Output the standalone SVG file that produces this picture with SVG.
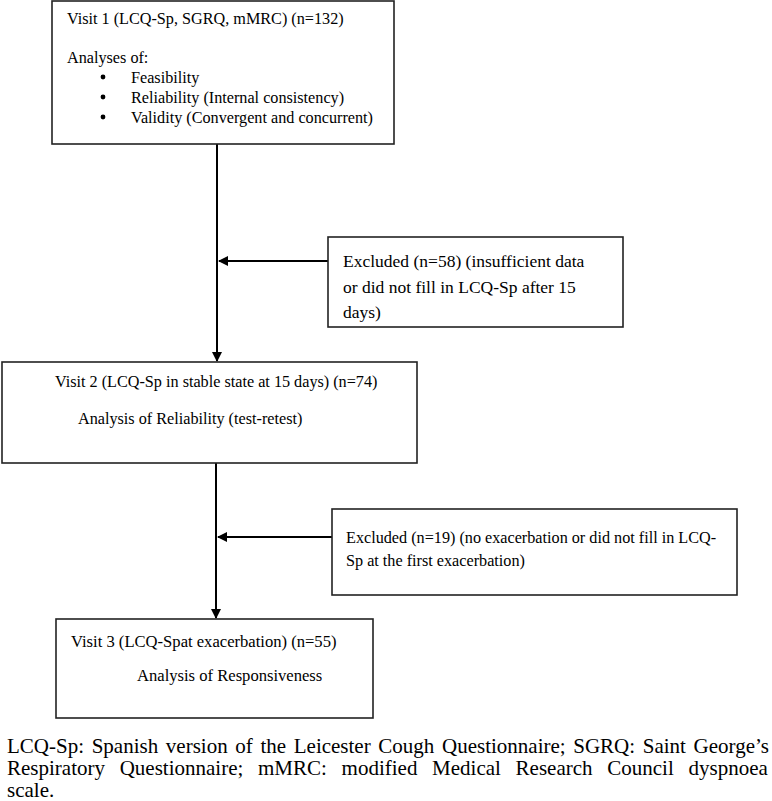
<svg xmlns="http://www.w3.org/2000/svg" width="772" height="801" viewBox="0 0 772 801">
<defs>
<marker id="ah" markerWidth="10" markerHeight="10" refX="9" refY="5" orient="auto" markerUnits="userSpaceOnUse">
<path d="M0,0 L10,5 L0,10 z" fill="#000"/>
</marker>
</defs>
<style>
.box{fill:#fff;stroke:#222;stroke-width:1.6}
.c{stroke:#000;stroke-width:2;fill:none}
text{font-family:'Liberation Serif',serif;fill:#000;font-size:16.2px}
.x1{font-size:17.5px}
.v3{font-size:16.6px}
.f{font-size:21px}
</style>
<rect width="772" height="801" fill="#fff"/>
<g id="connectors">
<line class="c" x1="217" y1="144" x2="217" y2="361" marker-end="url(#ah)"/>
<line class="c" x1="328" y1="261" x2="219" y2="261" marker-end="url(#ah)"/>
<line class="c" x1="216" y1="463" x2="216" y2="618" marker-end="url(#ah)"/>
<line class="c" x1="332" y1="537" x2="218" y2="537" marker-end="url(#ah)"/>
</g>
<g id="visit1">
<rect class="box" x="52" y="1" width="342" height="143"/>
<text x="67" y="24">Visit 1 (LCQ-Sp, SGRQ, mMRC) (n=132)</text>
<text x="67" y="63">Analyses of:</text>
<circle cx="103" cy="77" r="2.4"/>
<circle cx="103" cy="97" r="2.4"/>
<circle cx="103" cy="117" r="2.4"/>
<text x="131" y="83">Feasibility</text>
<text x="131" y="103">Reliability (Internal consistency)</text>
<text x="131" y="123">Validity (Convergent and concurrent)</text>
</g>
<g id="excluded1">
<rect class="box" x="328" y="237" width="295" height="90"/>
<text class="x1" x="343" y="267">Excluded (n=58) (insufficient data</text>
<text class="x1" x="343" y="293">or did not fill in LCQ-Sp after 15</text>
<text class="x1" x="343" y="318">days)</text>
</g>
<g id="visit2">
<rect class="box" x="2" y="362" width="415" height="101"/>
<text x="55" y="387">Visit 2 (LCQ-Sp in stable state at 15 days) (n=74)</text>
<text x="78" y="424">Analysis of Reliability (test-retest)</text>
</g>
<g id="excluded2">
<rect class="box" x="332" y="509" width="405" height="86"/>
<text x="346" y="543">Excluded (n=19) (no exacerbation or did not fill in LCQ-</text>
<text x="346" y="566">Sp at the first exacerbation)</text>
</g>
<g id="visit3">
<rect class="box" x="56" y="619" width="317" height="99"/>
<text class="v3" x="71" y="647">Visit 3 (LCQ-Spat exacerbation) (n=55)</text>
<text class="v3" x="137" y="681">Analysis of Responsiveness</text>
</g>
<g id="footnote">
<text class="f" x="7" y="752.5" word-spacing="2.4">LCQ-Sp: Spanish version of the Leicester Cough Questionnaire; SGRQ: Saint George’s</text>
<text class="f" y="774.5"><tspan x="7">Respiratory</tspan><tspan x="119.7">Questionnaire;</tspan><tspan x="258">mMRC:</tspan><tspan x="341.6">modified</tspan><tspan x="432.1">Medical</tspan><tspan x="515.6">Research</tspan><tspan x="607.3">Council</tspan><tspan x="688.5">dyspnoea</tspan></text>
<text class="f" x="7" y="796.5">scale.</text>
</g>
</svg>
